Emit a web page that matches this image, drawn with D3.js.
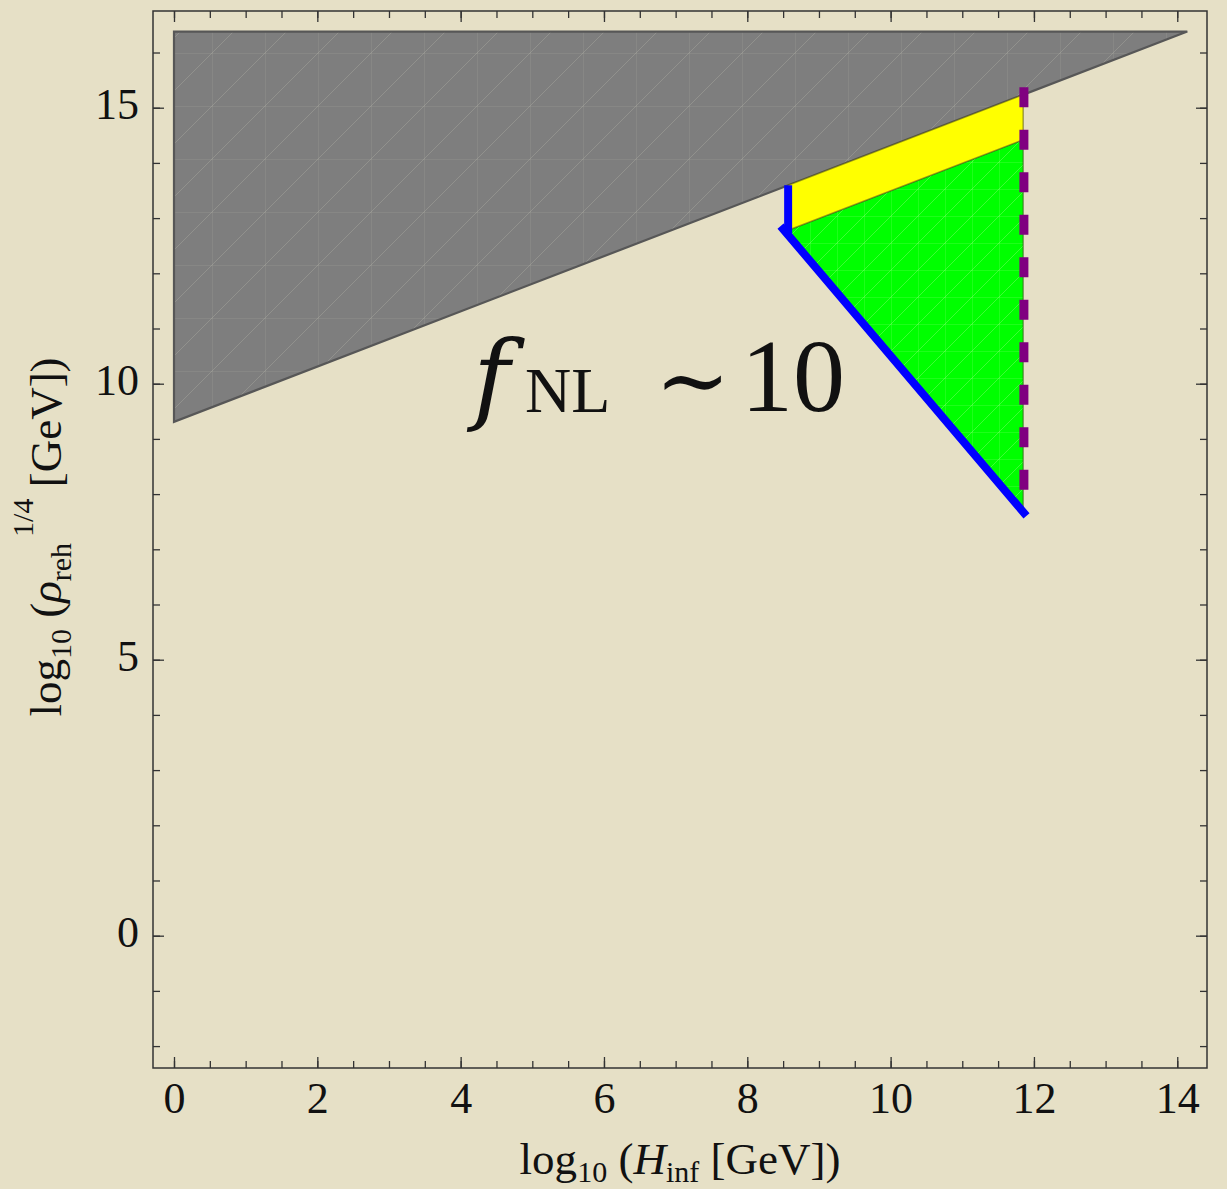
<!DOCTYPE html>
<html>
<head>
<meta charset="utf-8">
<script src="https://cdn.jsdelivr.net/npm/d3@7"></script>
<style>
  html, body { margin: 0; padding: 0; background: #e6e0c6; }
  svg { display: block; }
  text { font-family: "Liberation Serif", "DejaVu Serif", serif; fill: #111; }
</style>
</head>
<body>
<svg id="chart" width="1227" height="1189"></svg>
<script>
// ---------- data ----------
const xMajorTicks = [0, 2, 4, 6, 8, 10, 12, 14];
const xMinorTicks = d3.range(0, 14.01, 0.5);
const yMajorTicks = [0, 5, 10, 15];
const yMinorTicks = d3.range(-2, 16.01, 1);

// excluded (gray) region: above the line 9.31 + 0.5 x
const grayRegion = [[0, 16.38], [14.14, 16.38], [0, 9.31]];
// yellow band
const yellowRegion = [[8.57, 13.595], [11.85, 15.235], [11.85, 14.42], [8.57, 12.78]];
// green triangle
const greenRegion = [[8.57, 12.78], [11.85, 14.42], [11.85, 7.70]];
// blue boundaries
const blueVertical = [[8.57, 13.595], [8.57, 12.72]];
const blueDiagonal = [[8.50, 12.80], [11.86, 7.66]];
// purple dashed boundary
const purpleLine = [[11.86, 15.37], [11.86, 7.93]];

const annotation = { x: 4.2, y: 9.5 };

// ---------- layout ----------
const svg = d3.select("#chart");
const frame = { left: 153, right: 1207, top: 11, bottom: 1068 };
const x = d3.scaleLinear().domain([-0.293, 14.415]).range([frame.left, frame.right]);
const y = d3.scaleLinear().domain([-2.397, 16.752]).range([frame.bottom, frame.top]);

svg.append("rect").attr("width", 1227).attr("height", 1189).attr("fill", "#e6e0c6");

const defs = svg.append("defs");
const pg = defs.append("pattern").attr("id", "meshGray").attr("patternUnits", "userSpaceOnUse")
  .attr("width", 53).attr("height", 53);
pg.append("rect").attr("width", 53).attr("height", 53).attr("fill", "#7e7e7e");
pg.append("path").attr("d", "M0,53 L53,0 M0,0 L53,0 M0,0 L0,53")
  .attr("stroke", "rgba(220,220,200,0.2)").attr("stroke-width", 1).attr("fill", "none");

const pgr = defs.append("pattern").attr("id", "meshGreen").attr("patternUnits", "userSpaceOnUse")
  .attr("width", 27).attr("height", 27);
pgr.append("rect").attr("width", 27).attr("height", 27).attr("fill", "#00ff00");
pgr.append("path").attr("d", "M0,27 L27,0 M0,0 L27,0 M0,0 L0,27")
  .attr("stroke", "rgba(200,255,170,0.3)").attr("stroke-width", 1).attr("fill", "none");

const line = d3.line().x(d => x(d[0])).y(d => y(d[1]));
const poly = pts => line(pts) + "Z";

// regions
svg.append("path").attr("d", poly(grayRegion))
  .attr("fill", "url(#meshGray)").attr("stroke", "#575757").attr("stroke-width", 2.2);
svg.append("path").attr("d", poly(greenRegion))
  .attr("fill", "url(#meshGreen)").attr("stroke", "rgba(60,90,30,0.55)").attr("stroke-width", 1.5);
svg.append("path").attr("d", poly(yellowRegion))
  .attr("fill", "#ffff00").attr("stroke", "rgba(90,90,20,0.55)").attr("stroke-width", 1.5);

// boundary lines
svg.append("path").attr("d", line(purpleLine))
  .attr("fill", "none").attr("stroke", "#800080").attr("stroke-width", 9)
  .attr("stroke-dasharray", "20,22.5");
svg.append("path").attr("d", line(blueVertical))
  .attr("fill", "none").attr("stroke", "#0000ff").attr("stroke-width", 8);
svg.append("path").attr("d", line(blueDiagonal))
  .attr("fill", "none").attr("stroke", "#0000ff").attr("stroke-width", 8)
  .attr("stroke-linecap", "square");

// ---------- axes / frame ----------
const axisColor = "#333";
function styleAxis(g) {
  g.select(".domain").remove();
  g.selectAll(".tick line").attr("stroke", axisColor).attr("stroke-width", 1.3);
}
svg.append("g").attr("transform", `translate(0,${frame.bottom})`)
  .call(d3.axisBottom(x).tickValues(xMinorTicks).tickSize(-7).tickFormat(""))
  .call(styleAxis);
const bx = svg.append("g").attr("transform", `translate(0,${frame.bottom})`)
  .call(d3.axisBottom(x).tickValues(xMajorTicks).tickSize(-11).tickPadding(0).tickFormat(d3.format("d")))
  .call(styleAxis);
bx.selectAll(".tick text").attr("font-size", 44).attr("dy", null).attr("y", 45)
  .attr("font-family", "Liberation Serif").attr("fill", "#111");
svg.append("g").attr("transform", `translate(0,${frame.top})`)
  .call(d3.axisTop(x).tickValues(xMinorTicks).tickSize(-7).tickFormat(""))
  .call(styleAxis);
svg.append("g").attr("transform", `translate(0,${frame.top})`)
  .call(d3.axisTop(x).tickValues(xMajorTicks).tickSize(-11).tickFormat(""))
  .call(styleAxis);
svg.append("g").attr("transform", `translate(${frame.left},0)`)
  .call(d3.axisLeft(y).tickValues(yMinorTicks).tickSize(-7).tickFormat(""))
  .call(styleAxis);
const ly = svg.append("g").attr("transform", `translate(${frame.left},0)`)
  .call(d3.axisLeft(y).tickValues(yMajorTicks).tickSize(-11).tickFormat(d3.format("d")))
  .call(styleAxis);
ly.selectAll(".tick text").attr("font-size", 44).attr("x", -14).attr("dy", "0.25em")
  .attr("font-family", "Liberation Serif").attr("fill", "#111");
svg.append("g").attr("transform", `translate(${frame.right},0)`)
  .call(d3.axisRight(y).tickValues(yMinorTicks).tickSize(-7).tickFormat(""))
  .call(styleAxis);
svg.append("g").attr("transform", `translate(${frame.right},0)`)
  .call(d3.axisRight(y).tickValues(yMajorTicks).tickSize(-11).tickFormat(""))
  .call(styleAxis);

svg.append("rect")
  .attr("x", frame.left).attr("y", frame.top)
  .attr("width", frame.right - frame.left).attr("height", frame.bottom - frame.top)
  .attr("fill", "none").attr("stroke", axisColor).attr("stroke-width", 1.5);

// ---------- axis titles ----------
const xt = svg.append("text").attr("x", 680).attr("y", 1174)
  .attr("text-anchor", "middle").attr("font-size", 45);
xt.append("tspan").text("log");
xt.append("tspan").attr("font-size", 30).attr("dy", 8).text("10");
xt.append("tspan").attr("dy", -8).text(" (");
xt.append("tspan").attr("font-style", "italic").text("H");
xt.append("tspan").attr("font-size", 30).attr("dy", 8).text("inf");
xt.append("tspan").attr("dy", -8).text(" [GeV])");

const yt = svg.append("text").attr("transform", "translate(61,537) rotate(-90)")
  .attr("text-anchor", "middle").attr("font-size", 45);
yt.append("tspan").text("log");
yt.append("tspan").attr("font-size", 30).attr("dy", 10).text("10");
yt.append("tspan").attr("dy", -10).text(" (");
yt.append("tspan").attr("font-style", "italic").text("ρ");
yt.append("tspan").attr("font-size", 30).attr("dy", 10).text("reh");
yt.append("tspan").attr("font-size", 30).attr("dy", -38).attr("dx", 6).text("1/4");
yt.append("tspan").attr("dy", 28).text(" [GeV])");

// ---------- annotation ----------
const ax0 = x(annotation.x), ay0 = y(annotation.y);
const an = svg.append("text").attr("y", ay0).attr("font-size", 100);
an.append("tspan").attr("x", ax0 - 2).attr("font-style", "italic").attr("font-family", "DejaVu Serif").text("f");
an.append("tspan").attr("x", ax0 + 50).attr("font-size", 64).attr("dy", 1).text("NL");
an.append("tspan").attr("x", ax0 + 180).attr("dy", -1).attr("font-family", "DejaVu Serif").attr("font-size", 90).text("∼");
an.append("tspan").attr("x", ax0 + 266).attr("font-size", 104).text("10");
</script>
</body>
</html>
